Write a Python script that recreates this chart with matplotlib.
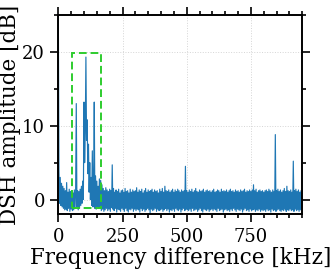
import numpy as np
import matplotlib
matplotlib.use("Agg")
import matplotlib.pyplot as plt
from matplotlib.patches import Rectangle

# Frequency step of the trace (kHz) and trace values (dB), 0 .. 950 kHz
freq_step_khz = 2.5
dsh_db = [
    # 0 - 47.5
    26.0, 4.0, -0.5, 3.0, -0.8, 2.2, -1.0, 1.8, -1.2, 1.5, -1.4, 1.2, -1.3, 2.3, -1.5, 1.0, -1.2, 1.4, -1.6, 1.1,
    # 50 - 97.5
    -1.3, 1.2, -1.5, 0.9, -1.4, 1.3, -1.2, 1.0, 13.0, -1.0, 1.2, -1.4, 1.1, -1.2, 1.4, -0.8, 1.8, -0.5, 2.5, 0.0,
    # 100 - 147.5
    13.2, 5.0, 9.0, 19.3, 8.0, 10.8, 3.5, 7.5, 1.0, 5.0, 0.0, 3.0, -0.8, 6.6, -1.0, 2.0, 13.2, -1.2, 3.2, -1.3,
    # 150 - 197.5
    2.5, -1.0, 1.8, -1.2, 2.8, -1.0, 2.6, -1.5, 2.0, -1.3, 1.5, -1.6, 1.2, -1.4, 1.6, -1.2, 1.3, -1.5, 1.1, -1.3,
    # 200 - 247.5
    1.4, -1.6, 1.2, -1.1, 4.7, -1.3, 1.5, -1.5, 1.0, -1.2, 1.3, -1.7, 1.1, -1.3, 1.4, -1.4, 0.9, -1.6, 1.2, -1.2,
    # 250 - 297.5
    1.3, -1.4, 1.0, -1.6, 1.5, -1.2, 1.1, -1.5, 1.2, -1.7, 0.9, -1.3, 1.4, -1.4, 1.0, -1.2, 1.3, -1.6, 1.1, -1.3,
    # 300 - 347.5
    1.2, -1.5, 1.6, -1.3, 1.0, -1.4, 1.3, -1.7, 1.1, -1.2, 1.4, -1.5, 0.9, -1.3, 1.2, -1.6, 1.5, -1.4, 1.0, -1.2,
    # 350 - 397.5
    1.3, -1.4, 1.1, -1.8, 1.2, -1.3, 1.4, -1.5, 1.0, -1.4, 1.3, -1.2, 1.1, -1.6, 1.2, -1.3, 0.9, -1.5, 1.4, -1.4,
    # 400 - 447.5
    1.1, -1.3, 1.5, -1.6, 1.0, -1.4, 1.8, -1.2, 1.2, -1.5, 1.1, -1.3, 1.3, -1.7, 1.0, -1.4, 1.2, -1.5, 1.4, -1.3,
    # 450 - 497.5
    1.0, -1.6, 1.3, -1.2, 1.1, -1.4, 1.4, -1.5, 1.2, -1.3, 1.0, -1.7, 1.3, -1.4, 1.1, -1.2, 1.2, -1.5, 4.5, -1.3,
    # 500 - 547.5
    1.2, -1.4, 1.0, -1.5, 1.3, -1.3, 1.1, -1.6, 1.4, -1.2, 1.0, -1.5, 1.2, -1.4, 1.5, -1.3, 1.1, -1.6, 1.0, -1.4,
    # 550 - 597.5
    1.3, -1.2, 1.1, -1.5, 1.2, -1.7, 1.4, -1.3, 1.0, -1.4, 1.2, -1.5, 1.3, -1.3, 1.1, -1.6, 1.2, -1.4, 1.0, -1.3,
    # 600 - 647.5
    1.2, -1.5, 1.4, -1.3, 1.0, -1.4, 1.1, -1.6, 1.3, -1.2, 1.2, -1.5, 1.0, -1.4, 1.4, -1.3, 1.1, -1.7, 1.2, -1.4,
    # 650 - 697.5
    1.1, -1.3, 1.3, -1.5, 1.0, -1.4, 1.2, -1.6, 1.4, -1.3, 1.1, -1.5, 1.2, -1.2, 1.0, -1.4, 1.3, -1.6, 1.1, -1.3,
    # 700 - 747.5
    1.2, -1.4, 1.0, -1.5, 1.3, -1.3, 1.1, -1.7, 1.2, -1.4, 1.4, -1.2, 1.0, -1.5, 1.2, -1.4, 1.1, -1.6, 1.3, -1.3,
    # 750 - 797.5
    1.1, -1.5, 1.3, -1.4, 2.0, -1.3, 1.2, -1.6, 1.4, -1.4, 1.0, -1.5, 1.2, -1.3, 1.3, -1.6, 1.1, -1.4, 1.2, -1.5,
    # 800 - 847.5
    1.0, -1.4, 1.2, -1.6, 1.3, -1.3, 1.1, -1.5, 1.4, -1.4, 1.2, -1.7, 1.0, -1.3, 1.3, -1.5, 1.1, -1.4, 8.8, -1.6,
    # 850 - 897.5
    1.2, -1.4, 1.4, -1.3, 1.1, -1.5, 1.3, -1.6, 1.0, -1.4, 1.2, -1.5, 1.5, -1.3, 1.1, -1.6, 1.8, -1.4, 1.2, -1.5,
    # 900 - 947.5
    1.1, -1.3, 1.3, -1.5, 1.0, -1.4, 5.2, -1.6, 1.2, -1.3, 1.4, -1.5, 1.1, -1.4, 1.3, -1.6, 1.0, -1.4, 1.2, -1.3,
    # 950
    1.0,
]

# Highlighted region (kHz, dB)
box_f = [55, 165]
box_db = [-1.2, 19.8]

xticks = [0, 250, 500, 750]
yticks = [0, 10, 20]

freq = np.arange(len(dsh_db)) * freq_step_khz

plt.rcParams["font.family"] = ["DejaVu Serif"]
fig = plt.figure(figsize=(3.32, 2.72), dpi=100)
ax = fig.add_axes([0.1756, 0.2121, 0.7349, 0.7328])

ax.plot(freq, dsh_db, color="#1f77b4", lw=0.85)
ax.add_patch(Rectangle((box_f[0], box_db[0]), box_f[1] - box_f[0], box_db[1] - box_db[0],
                       fill=False, edgecolor="#2ecc2e", lw=1.4, ls=(0, (4, 2)), zorder=3))

ax.set_xlim(0, 950)
ax.set_ylim(-2, 25)
ax.set_xticks(xticks)
ax.set_yticks(yticks)
ax.set_xticks(np.arange(0, 951, 50), minor=True)
ax.set_yticks([5, 15, 25], minor=True)
ax.grid(True, which="major", color="#d5d5d5", ls=":", lw=0.7)
ax.set_axisbelow(True)
ax.tick_params(which="both", direction="out", top=True, right=True, labelsize=13, width=1.2)
ax.tick_params(which="major", length=6)
ax.tick_params(which="minor", length=3)
for s in ax.spines.values():
    s.set_linewidth(1.4)
ax.set_xlabel("Frequency difference [kHz]", fontsize=15.5, labelpad=1)
ax.set_ylabel("DSH amplitude [dB]", fontsize=15.5, labelpad=1)

fig.savefig("out.png", dpi=100)
